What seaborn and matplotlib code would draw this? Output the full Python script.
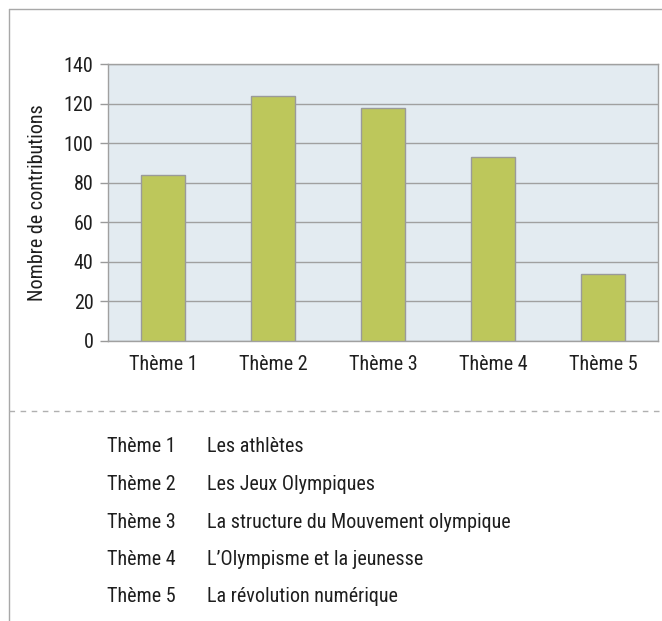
import numpy as np
import pandas as pd
import matplotlib
matplotlib.use("Agg")
import matplotlib.pyplot as plt
import seaborn as sns
from matplotlib.lines import Line2D
from matplotlib import font_manager

# data
themes = ["Thème 1", "Thème 2", "Thème 3", "Thème 4", "Thème 5"]
contributions = [84, 124, 118, 93, 34]
descriptions = [
    "Les athlètes",
    "Les Jeux Olympiques",
    "La structure du Mouvement olympique",
    "L\u2019Olympisme et la jeunesse",
    "La révolution numérique",
]
y_ticks = [0, 20, 40, 60, 80, 100, 120, 140]

sns.set_theme(style="white")
# a narrow face if one is there, else a plain sans
names = {f.name for f in font_manager.fontManager.ttflist}
narrow = [n for n in ["Roboto Condensed", "Liberation Sans Narrow", "Open Sans Condensed",
                      "Roboto", "DejaVu Sans"] if n in names]
plt.rcParams["font.family"] = narrow + ["DejaVu Sans"]
plt.rcParams["text.color"] = "#1E1E1E"
FS = 14.5

W, H = 662, 621
fig = plt.figure(figsize=(W / 100, H / 100), dpi=100)
fig.patch.set_facecolor("white")

# axes box: left 108, right 658, top 64, bottom 341 (pixels)
ax = fig.add_axes([108 / W, 1 - 341 / H, 550 / W, 277 / H])
ax.set_facecolor("#E3EBF1")

df = pd.DataFrame({"theme": themes, "n": contributions})
sns.barplot(data=df, x="theme", y="n", color="#BDC75B", width=0.4,
            edgecolor="#9A9A9A", linewidth=1.0, saturation=1, ax=ax, zorder=3)

ax.set_ylim(0, 140)
ax.set_xlim(-0.5, 4.5)
ax.set_yticks(y_ticks)
ax.set_yticklabels([str(v) for v in y_ticks], fontsize=FS)
ax.yaxis.grid(True, color="#A0A0A0", linewidth=1.0, zorder=1)
ax.set_axisbelow(True)

# category labels in the middle, tick marks on the boundaries
ax.set_xticks(range(len(themes)))
ax.set_xticklabels(themes, fontsize=FS)
ax.tick_params(axis="x", length=0, pad=10, colors="#1E1E1E")
ax.set_xticks(np.arange(-0.5, len(themes)), minor=True)
ax.tick_params(axis="x", which="minor", length=6, color="#9A9A9A", width=1, direction="out")
ax.tick_params(axis="y", length=5.5, color="#9A9A9A", width=1, direction="out", pad=5,
               left=True, labelcolor="#1E1E1E")

for s in ax.spines.values():
    s.set_color("#A0A0A0")
    s.set_linewidth(1.0)

ax.set_xlabel("")
ax.set_ylabel("Nombre de contributions", fontsize=FS, labelpad=12, color="#1E1E1E")

# frame lines and dashed separator
fig.add_artist(Line2D([9 / W, 1], [1 - 9 / H, 1 - 9 / H], color="#A8A8A8", lw=1.0))
fig.add_artist(Line2D([9 / W, 9 / W], [0, 1 - 9 / H], color="#A8A8A8", lw=1.0))
fig.add_artist(Line2D([9 / W, 1], [1 - 411 / H, 1 - 411 / H], color="#B0B0B0",
                      lw=1.0, linestyle=(0, (4, 4))))

# key table below the chart
for i, (t, d) in enumerate(zip(themes, descriptions)):
    y = 1 - (447 + i * 37.5) / H
    fig.text(107 / W, y, t, fontsize=FS, va="center", ha="left")
    fig.text(207 / W, y, d, fontsize=FS, va="center", ha="left")

fig.savefig("out.png", dpi=100)
